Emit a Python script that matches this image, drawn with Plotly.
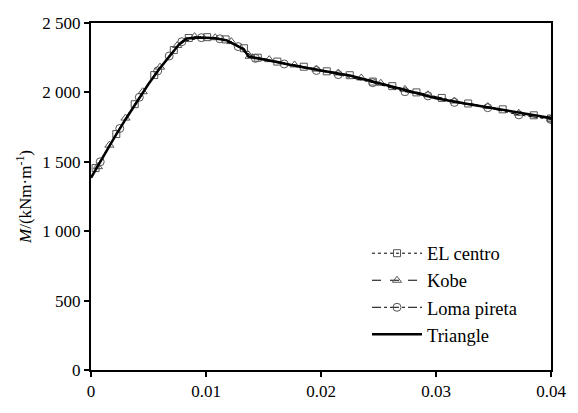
import plotly.graph_objects as go

# Triangle (reference) curve
tri_x = [0, 0.001, 0.002, 0.003, 0.004, 0.005, 0.006, 0.007, 0.0077, 0.0083, 0.0095,
         0.0108, 0.0118, 0.0133, 0.0137, 0.0155, 0.0175, 0.0200, 0.0225, 0.0250,
         0.0275, 0.0300, 0.0325, 0.0350, 0.0375, 0.0400]
tri_y = [1385, 1530, 1670, 1805, 1935, 2060, 2175, 2280, 2350, 2388, 2396,
         2390, 2375, 2310, 2258, 2230, 2195, 2158, 2122, 2068,
         2013, 1958, 1920, 1886, 1853, 1816]

# EL centro
el_x = [0.0004, 0.0022, 0.0038, 0.0055, 0.0072, 0.0085, 0.0101, 0.0117, 0.0133, 0.0145,
        0.0162, 0.0185, 0.0205, 0.0225, 0.0245, 0.0262, 0.0283, 0.0305, 0.0328, 0.0358,
        0.0385, 0.0400]
el_y = [1455, 1700, 1915, 2125, 2305, 2392, 2398, 2382, 2318, 2250,
        2222, 2185, 2152, 2124, 2078, 2045, 2000, 1960, 1920, 1878,
        1835, 1812]

# Kobe
kb_x = [0.0006, 0.0016, 0.0030, 0.0045, 0.0060, 0.0075, 0.0090, 0.0108, 0.0122, 0.0138,
        0.0155, 0.0177, 0.0196, 0.0215, 0.0235, 0.0252, 0.0273, 0.0293, 0.0316, 0.0345,
        0.0372, 0.0400]
kb_y = [1465, 1620, 1815, 2005, 2182, 2338, 2402, 2394, 2366, 2260,
        2236, 2198, 2168, 2140, 2104, 2066, 2022, 1983, 1938, 1898,
        1850, 1808]

# Loma pireta
lp_x = [0.0008, 0.0025, 0.0042, 0.0058, 0.0068, 0.0079, 0.0096, 0.0112, 0.0128, 0.0143,
        0.0168, 0.0196, 0.0215, 0.0245, 0.0273, 0.0293, 0.0316, 0.0345, 0.0372, 0.0400]
lp_y = [1500, 1740, 1965, 2155, 2262, 2365, 2394, 2386, 2330, 2245,
        2205, 2158, 2128, 2070, 2005, 1975, 1928, 1890, 1838, 1805]

y_ticks = [0, 500, 1000, 1500, 2000, 2500]
y_tick_text = ["0", "500", "1 000", "1 500", "2 000", "2 500"]
x_ticks = [0, 0.01, 0.02, 0.03, 0.04]
x_tick_text = ["0", "0.01", "0.02", "0.03", "0.04"]

FONT = "Times New Roman"
mk_col = "#555555"

fig = go.Figure()
fig.add_trace(go.Scatter(x=el_x, y=el_y, name="EL centro", mode="lines+markers",
                         line=dict(color="black", width=1, dash="dot"),
                         marker=dict(symbol="square-open", size=7, color=mk_col, line=dict(width=1))))
fig.add_trace(go.Scatter(x=kb_x, y=kb_y, name="Kobe", mode="lines+markers",
                         line=dict(color="black", width=1, dash="dash"),
                         marker=dict(symbol="triangle-up-open", size=8, color=mk_col, line=dict(width=1))))
fig.add_trace(go.Scatter(x=lp_x, y=lp_y, name="Loma pireta", mode="lines+markers",
                         line=dict(color="black", width=1, dash="dashdot"),
                         marker=dict(symbol="circle-open", size=8, color=mk_col, line=dict(width=1))))
fig.add_trace(go.Scatter(x=tri_x, y=tri_y, name="Triangle", mode="lines",
                         line=dict(color="black", width=2.5)))

fig.update_layout(
    width=578, height=413,
    margin=dict(l=91, r=24, t=23, b=32),
    paper_bgcolor="white", plot_bgcolor="white",
    font=dict(family=FONT, size=17, color="black"),
    showlegend=True,
    legend=dict(x=0.60, y=0.39, xanchor="left", yanchor="top",
                bgcolor="rgba(0,0,0,0)", font=dict(family=FONT, size=18.5),
                itemwidth=50, tracegroupgap=0),
    xaxis=dict(range=[0, 0.04], tickvals=x_ticks, ticktext=x_tick_text,
               showgrid=False, zeroline=False, showline=True, linecolor="black",
               linewidth=2, mirror=True, ticks="outside", ticklen=5, tickwidth=2,
               tickcolor="black", tickfont=dict(family=FONT, size=17)),
    yaxis=dict(range=[0, 2500], tickvals=y_ticks, ticktext=y_tick_text,
               showgrid=False, zeroline=False, showline=True, linecolor="black",
               linewidth=2, mirror=True, ticks="outside", ticklen=5, tickwidth=2,
               tickcolor="black", tickfont=dict(family=FONT, size=17),
               title=dict(text="<i>M</i>/(kNm·m<sup>-1</sup>)", standoff=6,
                          font=dict(family=FONT, size=17))),
)

fig.write_html("out.html")
